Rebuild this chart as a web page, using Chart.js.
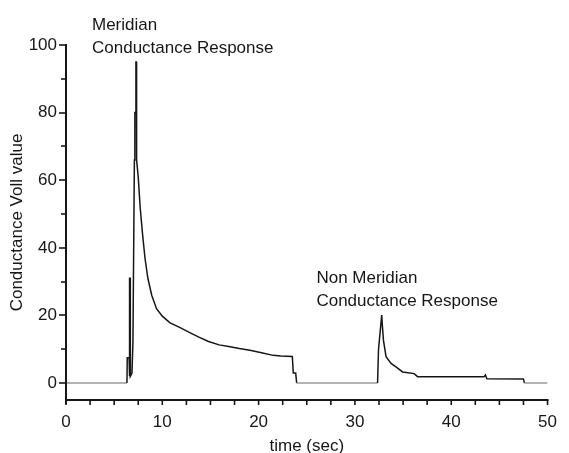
<!DOCTYPE html>
<html>
<head>
<meta charset="utf-8">
<script src="https://cdn.jsdelivr.net/npm/chart.js@4/dist/chart.umd.min.js"></script>
<style>
  html, body { margin: 0; padding: 0; background: #ffffff; }
  #wrap { width: 569px; height: 453px; }
</style>
</head>
<body>
<div id="wrap"><canvas id="c" width="569" height="453"></canvas></div>
<script>
// ---- data ----
const timeSec = [
  0, 6.33, 6.36, 6.55, 6.58, 6.62, 6.66, 6.68, 6.85, 6.95, 7.1, 7.15, 7.22, 7.26, 7.3, 7.33,
  7.5, 7.7, 7.95, 8.2, 8.5, 8.9, 9.4, 10.0, 10.8, 11.8, 12.8, 13.8, 14.8, 15.9, 16.9, 18.0,
  19.1, 20.3, 21.5, 22.3, 23.5, 23.6, 23.85, 23.95,
  32.35, 32.45, 32.78, 32.85, 32.96, 33.23, 33.75, 34.26, 34.95, 36.15, 36.5,
  43.4, 43.55, 43.7, 47.5, 47.6, 50
];
const conductance = [
  0, 0, 7.5, 7.5, 2, 31, 31, 2, 3, 12, 66, 80, 80, 95, 95, 66,
  61, 52, 44, 37, 31, 26, 22, 19.8, 17.8, 16.5, 15, 13.6, 12.3, 11.3, 10.8, 10.2,
  9.7, 9.0, 8.2, 8.0, 7.9, 3, 3, 0,
  0, 10, 20.1, 17, 12.7, 7.8, 5.8, 4.8, 3.3, 2.8, 1.9,
  1.9, 2.4, 1.3, 1.2, 0, 0
];
const xTickLabels = [0, 10, 20, 30, 40, 50];
const yTickLabels = [0, 20, 40, 60, 80, 100];
const xTickMarks = [0, 2.5, 5, 7.5, 10, 12.5, 15, 17.5, 20, 22.5, 25, 27.5, 30, 32.5, 35, 37.5, 40, 42.5, 45, 47.5, 50];
const yTickMarks = [0, 10, 20, 30, 40, 50, 60, 70, 80, 90, 100];
const xTitle = 'time (sec)';
const yTitle = 'Conductance Voll value';
const noteLines1 = ['Meridian', 'Conductance Response'];
const noteLines2 = ['Non Meridian', 'Conductance Response'];
const noteAnchor1 = { x: 2.7, y: 104.4 };
const noteAnchor2 = { x: 26.0, y: 29.6 };

// ---- styling ----
const FONT = '"Liberation Sans", Arial, sans-serif';
const FS = 17;
const INK = '#161616';
const GRAY = '#9a9a9a';

const points = timeSec.map((t, i) => ({ x: t, y: conductance[i] }));

const axesPlugin = {
  id: 'axesPlugin',
  afterDraw(chart) {
    const ctx = chart.ctx;
    const xs = chart.scales.x, ys = chart.scales.y;
    const x0 = xs.getPixelForValue(0), x1 = xs.getPixelForValue(50);
    const yBot = ys.getPixelForValue(ys.min), yTop = ys.getPixelForValue(100);
    ctx.save();
    ctx.strokeStyle = INK;
    ctx.lineWidth = 2;
    ctx.lineCap = 'butt';
    // y axis
    ctx.beginPath();
    ctx.moveTo(x0, yTop - 1);
    ctx.lineTo(x0, yBot + 4);
    ctx.stroke();
    // x axis
    ctx.beginPath();
    ctx.moveTo(x0, yBot);
    ctx.lineTo(x1 + 1, yBot);
    ctx.stroke();
    // y ticks
    ctx.lineWidth = 1.6;
    yTickMarks.forEach(v => {
      const p = Math.round(ys.getPixelForValue(v));
      const len = (v % 20 === 0) ? 7 : 5;
      ctx.beginPath();
      ctx.moveTo(x0 - len, p);
      ctx.lineTo(x0, p);
      ctx.stroke();
    });
    // x ticks
    xTickMarks.forEach(v => {
      const p = xs.getPixelForValue(v);
      ctx.beginPath();
      ctx.moveTo(p, yBot);
      ctx.lineTo(p, yBot + 5);
      ctx.stroke();
    });
    // annotations
    ctx.fillStyle = INK;
    ctx.font = FS + 'px ' + FONT;
    ctx.textAlign = 'left';
    ctx.textBaseline = 'alphabetic';
    [[noteLines1, noteAnchor1], [noteLines2, noteAnchor2]].forEach(([lines, a]) => {
      const px = xs.getPixelForValue(a.x);
      const py = ys.getPixelForValue(a.y);
      lines.forEach((s, i) => ctx.fillText(s, px, py + i * 22.5));
    });
    ctx.restore();
  }
};

new Chart(document.getElementById('c'), {
  type: 'line',
  data: {
    datasets: [{
      data: points,
      borderColor: INK,
      borderWidth: 1.5,
      pointRadius: 0,
      tension: 0,
      fill: false,
      segment: {
        borderColor: c => (c.p0.parsed.y === 0 && c.p1.parsed.y === 0) ? GRAY : undefined
      }
    }]
  },
  options: {
    responsive: false,
    animation: false,
    events: [],
    layout: { padding: { left: 0, right: 18, top: 45, bottom: 0 } },
    plugins: { legend: { display: false }, tooltip: { enabled: false } },
    scales: {
      x: {
        type: 'linear',
        min: 0, max: 50,
        grid: { display: false, drawTicks: false },
        border: { display: false },
        afterBuildTicks: s => { s.ticks = xTickLabels.map(v => ({ value: v })); },
        afterFit: s => { s.height = 53; },
        ticks: { color: INK, padding: 12, maxRotation: 0, autoSkip: false, font: { family: FONT, size: FS } },
        title: { display: true, text: xTitle, color: INK, font: { family: FONT, size: FS, lineHeight: 1 }, padding: { top: 0, bottom: -2 } }
      },
      y: {
        type: 'linear',
        min: -5, max: 100,
        grid: { display: false, drawTicks: false },
        border: { display: false },
        afterBuildTicks: s => { s.ticks = yTickLabels.map(v => ({ value: v })); },
        afterFit: s => { s.width = 66; },
        ticks: { color: INK, padding: 9, autoSkip: false, font: { family: FONT, size: FS } },
        title: { display: true, text: yTitle, color: INK, font: { family: FONT, size: FS, lineHeight: 1 }, padding: { top: 9, bottom: 0 } }
      }
    }
  },
  plugins: [axesPlugin]
});
</script>
</body>
</html>
